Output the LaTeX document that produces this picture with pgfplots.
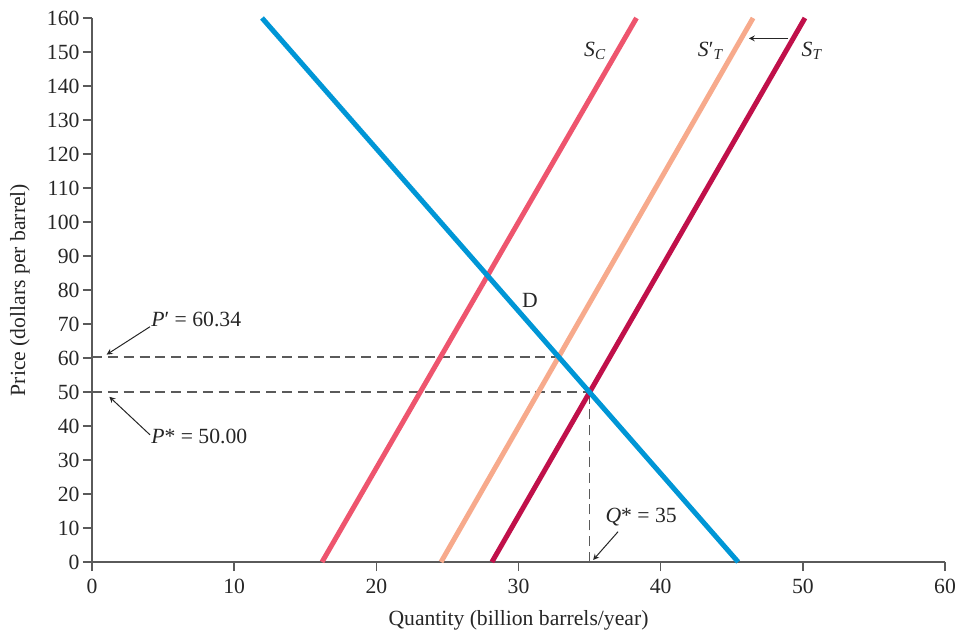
\documentclass[border=0pt]{standalone}
\usepackage{fontspec}
\setmainfont{Liberation Serif}
\usepackage{pgfplots}
\pgfplotsset{compat=1.18}
\definecolor{dblue}{RGB}{0,150,214}
\definecolor{sc}{RGB}{238,85,110}
\definecolor{stp}{RGB}{247,170,140}
\definecolor{st}{RGB}{192,16,74}
\definecolor{axgray}{RGB}{90,90,90}
\newcommand{\fs}{\fontsize{13}{15}\selectfont}
\begin{document}
\begin{tikzpicture}
\useasboundingbox (-55.2pt,-42.6pt) rectangle (520.8pt,337.2pt);
\begin{axis}[
  scale only axis,
  width=511.8pt, height=326.4pt,
  xmin=0, xmax=60, ymin=0, ymax=160,
  axis lines*=left,
  axis line style={axgray, line width=0.9pt},
  tick style={axgray, line width=0.9pt},
  tick align=outside,
  major tick length=5.5pt,
  xtick={0,10,...,60},
  ytick={0,10,...,160},
  /pgf/number format/assume math mode=true,
  tick label style={font=\fs, text=black!85},
  xticklabel style={yshift=-1.5pt},
  yticklabel style={xshift=1.5pt},
  xlabel={Quantity (billion barrels/year)},
  ylabel={Price (dollars per barrel)},
  every axis x label/.style={at={(axis description cs:0.5,-0.1066)}, anchor=center, font=\fs, text=black!85},
  every axis y label/.style={at={(axis description cs:-0.0844,0.5)}, anchor=center, rotate=90, font=\fs, text=black!85},
  clip=false,
]
% dashed guides
\addplot[axgray, line width=0.8pt, dash pattern=on 6pt off 3.5pt] coordinates {(0,60.34) (32.8,60.34)};
\addplot[axgray, line width=0.8pt, dash pattern=on 6pt off 3.5pt] coordinates {(0,50) (35,50)};
\addplot[axgray, line width=0.8pt, dash pattern=on 6pt off 3.5pt] coordinates {(35,0) (35,50)};
% curves
\addplot[sc, line width=3pt] coordinates {(16.18,0) (38.3,160)};
\addplot[stp, line width=3pt] coordinates {(24.55,0) (46.5,160)};
\addplot[st, line width=3pt] coordinates {(28.13,0) (50.15,160)};
\addplot[dblue, line width=3pt] coordinates {(11.96,160) (45.45,0)};
% arrows
\draw[-stealth, black!85, line width=0.6pt] (axis cs:4.08,69.2) -- (axis cs:1.03,61.0);
\draw[-stealth, black!85, line width=0.6pt] (axis cs:4.08,37.4) -- (axis cs:1.22,48.6);
\draw[-stealth, black!85, line width=0.6pt] (axis cs:37.0,8.9) -- (axis cs:35.25,0.6);
\draw[-stealth, black!85, line width=0.6pt] (axis cs:48.97,154.0) -- (axis cs:46.2,154.0);
% labels
\node[anchor=west, font=\fs, text=black!85, inner sep=0pt] at (axis cs:4.15,71.2) {\textit{P}′ = 60.34};
\node[anchor=west, font=\fs, text=black!85, inner sep=0pt] at (axis cs:4.15,36.8) {\textit{P}* = 50.00};
\node[anchor=west, font=\fs, text=black!85, inner sep=0pt] at (axis cs:36.1,13.3) {\textit{Q}* = 35};
\node[anchor=center, font=\fs, text=black!85] at (axis cs:30.8,76.9) {D};
\node[anchor=west, font=\fs, text=black!85, inner sep=0pt] at (axis cs:34.6,150.4) {\textit{S}\textsubscript{\textit{C}}};
\node[anchor=west, font=\fs, text=black!85, inner sep=0pt] at (axis cs:42.6,150.4) {\textit{S}′\textsubscript{\textit{T}}};
\node[anchor=west, font=\fs, text=black!85, inner sep=0pt] at (axis cs:49.9,150.4) {\textit{S}\textsubscript{\textit{T}}};
\end{axis}
\end{tikzpicture}
\end{document}
